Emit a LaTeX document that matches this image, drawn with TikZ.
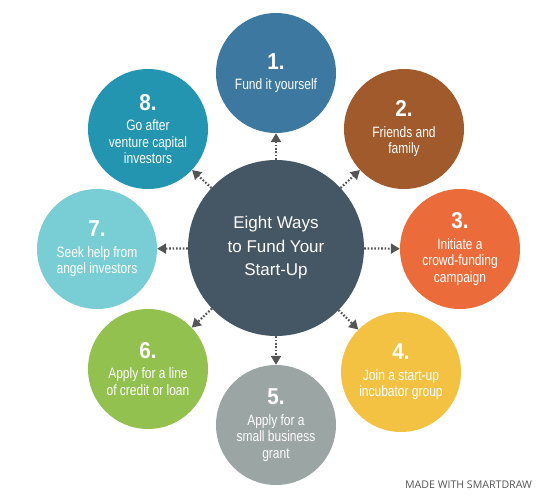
\documentclass[tikz,border=0pt]{standalone}
\usepackage{fontspec}
\usetikzlibrary{arrows.meta}
\newfontfamily\plainsf{Liberation Sans}
\newfontfamily\narrowsf[FakeStretch=0.8]{Liberation Sans}
\newfontfamily\numsf[FakeStretch=0.9]{Liberation Sans}
\newfontfamily\marksf{Open Sans}
\newcommand\wayno{\numsf\bfseries\fontsize{23}{24}\selectfont}
\definecolor{hubgray}{HTML}{455764}
\definecolor{cA}{HTML}{3D78A0}
\definecolor{cB}{HTML}{A05A2B}
\definecolor{cC}{HTML}{EC6B3A}
\definecolor{cD}{HTML}{F4C243}
\definecolor{cE}{HTML}{9BA5A4}
\definecolor{cF}{HTML}{92C150}
\definecolor{cG}{HTML}{79CED6}
\definecolor{cH}{HTML}{2395B1}
\definecolor{linkgray}{HTML}{555555}
\tikzset{
  hub/.style={circle, fill=hubgray, minimum size=176pt, inner sep=0pt, text=white, align=center,
    font=\plainsf\fontsize{17}{23.5}\selectfont},
  way/.style={circle, minimum size=120pt, inner sep=0pt, text=white, align=center,
    font=\narrowsf\fontsize{15}{16.5}\selectfont},
  link/.style={linkgray, line width=2.2pt, dash pattern=on 1.6pt off 1.8pt}
}
\begin{document}
\begin{tikzpicture}[x=1pt,y=-1pt,>={Triangle[length=9pt,width=10pt]}, line join=round]
\useasboundingbox (0,0) rectangle (550,500);
\node[hub] (m) at (276,248) {Eight Ways\\to Fund Your\\Start-Up};
\foreach \i/\p/\c/\t in {1/{276,73}/cA/{Fund it yourself},
    2/{404,129}/cB/{Friends and\\family},
    3/{460,249}/cC/{Initiate a\\crowd-funding\\campaign},
    4/{401,372}/cD/{Join a start-up\\incubator group},
    5/{276,425}/cE/{Apply for a\\small business\\grant},
    6/{148,369}/cF/{Apply for a line\\of credit or loan},
    7/{97,249}/cG/{Seek help from\\angel investors},
    8/{148,129}/cH/{Go after\\venture capital\\investors}}{
  \node[way, fill=\c] (n\i) at (\p) {{\wayno\i.}\\[4pt]\t};
  \draw[link, ->] (m)--(n\i);
}
\node[text=linkgray, font=\marksf\fontsize{10.6}{12}\selectfont] (mark) at (468.5,485) {MADE WITH SMARTDRAW};
\end{tikzpicture}
\end{document}
